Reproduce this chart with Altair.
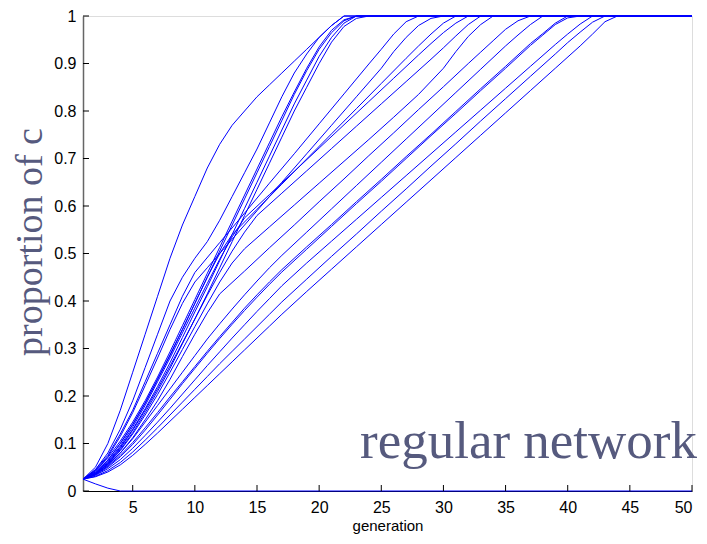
import altair as alt
import pandas as pd

# ---- data ----
x_ticks = [5, 10, 15, 20, 25, 30, 35, 40, 45, 50]
y_ticks = [0, 0.1, 0.2, 0.3, 0.4, 0.5, 0.6, 0.7, 0.8, 0.9, 1]

odd = lambda a, b: list(range(a, b + 1, 2))
seq = lambda a, b: list(range(a, b + 1))

gens_01 = seq(1, 22) + [50]
vals_01 = [.025, .05, .10, .17, .25, .33, .41, .49, .56, .62, .68, .73, .77, .80, .83, .855, .88, .905, .93, .955, .98, 1, 1]

gens_02 = seq(1, 22) + [50]
vals_02 = [.025, .045, .08, .13, .19, .26, .33, .40, .45, .49, .525, .57, .62, .67, .72, .775, .83, .88, .92, .955, .98, 1, 1]

gens_03 = seq(1, 23) + [50]
vals_03 = [.025, .04, .065, .10, .14, .185, .235, .285, .34, .395, .45, .505, .56, .615, .67, .725, .78, .835, .885, .93, .965, .99, 1, 1]

gens_04 = seq(1, 23) + [50]
vals_04 = [.025, .038, .06, .092, .13, .173, .22, .27, .323, .377, .43, .485, .54, .595, .65, .705, .76, .815, .865, .915, .955, .985, 1, 1]

gens_05 = seq(1, 23) + [50]
vals_05 = [.025, .042, .07, .105, .145, .19, .24, .293, .348, .403, .458, .513, .568, .623, .678, .733, .788, .84, .89, .935, .97, .992, 1, 1]

gens_06 = seq(1, 24) + [50]
vals_06 = [.025, .036, .057, .087, .123, .165, .21, .258, .31, .362, .415, .47, .525, .58, .635, .69, .745, .80, .85, .90, .945, .978, .995, 1, 1]

gens_07 = seq(1, 10) + [12, 14, 16, 18, 20, 22, 24, 25, 26, 27, 28, 50]
vals_07 = [.025, .045, .075, .12, .17, .23, .29, .35, .41, .46, .523, .585, .648, .71, .773, .836, .899, .93, .962, .988, 1, 1]

gens_08 = seq(1, 11) + odd(13, 25) + [26, 27, 28, 29, 30, 50]
vals_08 = [.025, .043, .072, .115, .165, .222, .28, .34, .395, .44, .47, .53, .59, .65, .71, .77, .83, .89, .925, .955, .98, .995, 1, 1]

gens_09 = seq(1, 13) + odd(15, 27) + [28, 29, 30, 31, 50]
vals_09 = [.025, .04, .065, .10, .14, .185, .235, .287, .34, .395, .45, .50, .54, .593, .646, .699, .752, .805, .858, .911, .937, .962, .985, 1, 1]

gens_10 = seq(1, 14) + [16, 18, 20, 22, 24, 26, 28, 29, 30, 31, 32, 50]
vals_10 = [.025, .038, .062, .095, .135, .18, .23, .28, .333, .385, .437, .488, .535, .575, .624, .673, .722, .771, .82, .869, .918, .942, .965, .985, 1, 1]

gens_11 = seq(1, 15) + odd(17, 29) + [30, 31, 32, 33, 50]
vals_11 = [.025, .037, .058, .09, .128, .17, .215, .263, .312, .362, .412, .46, .505, .545, .58, .627, .674, .721, .768, .815, .862, .909, .933, .958, .982, 1, 1]

gens_12 = seq(1, 14) + [16, 18, 20, 22, 24, 26, 28, 30, 31, 32, 33, 34, 50]
vals_12 = [.025, .036, .056, .085, .12, .16, .203, .25, .298, .346, .394, .44, .48, .51, .556, .602, .648, .694, .74, .787, .835, .89, .925, .957, .982, 1, 1]

gens_13 = seq(1, 12) + [14, 16, 18, 20, 22, 24, 26, 28, 30, 32, 33, 34, 35, 36, 37, 50]
vals_13 = [.025, .035, .053, .08, .112, .15, .19, .235, .283, .33, .375, .415, .463, .512, .56, .609, .657, .706, .754, .803, .851, .90, .924, .948, .972, .99, 1, 1]

gens_14 = seq(1, 17) + odd(19, 35) + [36, 37, 38, 50]
vals_14 = [.025, .037, .055, .08, .11, .145, .18, .215, .25, .285, .32, .352, .383, .413, .442, .47, .496,
           .545, .594, .643, .692, .741, .79, .839, .888, .937, .96, .982, 1, 1]

gens_15 = seq(1, 17) + odd(19, 37) + [38, 39, 40, 50]
vals_15 = [.025, .035, .052, .075, .102, .133, .165, .198, .23, .262, .294, .325, .355, .385, .413, .44, .466,
           .514, .561, .609, .656, .704, .751, .799, .847, .894, .942, .963, .985, 1, 1]

gens_16 = seq(1, 17) + odd(19, 37) + [38, 39, 40, 41, 50]
vals_16 = [.025, .034, .05, .072, .098, .128, .16, .193, .226, .258, .29, .321, .351, .38, .408, .435, .461,
           .509, .557, .605, .652, .70, .748, .795, .843, .89, .938, .96, .982, .996, 1, 1]

gens_17 = seq(1, 17) + odd(19, 39) + [40, 41, 42, 50]
vals_17 = [.025, .033, .047, .066, .09, .117, .145, .174, .204, .234, .264, .293, .322, .35, .378, .405, .432,
           .48, .526, .572, .618, .664, .71, .756, .802, .848, .894, .94, .962, .983, 1, 1]

gens_18 = seq(1, 17) + odd(19, 39) + [40, 41, 42, 43, 50]
vals_18 = [.025, .031, .043, .06, .082, .107, .133, .16, .187, .214, .241, .268, .294, .32, .346, .372, .398,
           .446, .494, .541, .589, .636, .684, .731, .779, .826, .873, .92, .944, .966, .987, 1, 1]

gens_19 = seq(1, 17) + odd(19, 41) + [42, 43, 44, 50]
vals_19 = [.025, .03, .04, .055, .075, .098, .122, .147, .172, .197, .222, .247, .272, .297, .322, .347, .372,
           .42, .467, .514, .561, .608, .655, .702, .749, .796, .843, .89, .937, .962, .988, 1, 1]

gens_20 = [1, 2, 3, 4, 50]
vals_20 = [.025, .015, .006, 0, 0]

all_gens = [gens_01, gens_02, gens_03, gens_04, gens_05, gens_06, gens_07, gens_08, gens_09, gens_10,
            gens_11, gens_12, gens_13, gens_14, gens_15, gens_16, gens_17, gens_18, gens_19, gens_20]
all_vals = [vals_01, vals_02, vals_03, vals_04, vals_05, vals_06, vals_07, vals_08, vals_09, vals_10,
            vals_11, vals_12, vals_13, vals_14, vals_15, vals_16, vals_17, vals_18, vals_19, vals_20]

rows = []
for i, (gs, vs) in enumerate(zip(all_gens, all_vals)):
    assert len(gs) == len(vs), (i, len(gs), len(vs))
    for g, v in zip(gs, vs):
        rows.append({"run": i + 1, "g": g, "v": v})
df = pd.DataFrame(rows)

W, H = 609, 475
xscale = alt.Scale(domain=[1, 50], nice=False, zero=False)
yscale = alt.Scale(domain=[0, 1], nice=False)

lines = alt.Chart(df).mark_line(color="#0000ff", strokeWidth=1).encode(
    x=alt.X("g:Q", scale=xscale,
            axis=alt.Axis(values=x_ticks, title="generation", ticks=False, grid=False,
                          labelFont="Liberation Sans", labelFontSize=16, labelColor="black",
                          labelPadding=8, titleFont="Liberation Sans", titleFontSize=15,
                          titleFontWeight="normal", titleColor="black", titlePadding=3,
                          domainColor="black", domainWidth=1)),
    y=alt.Y("v:Q", scale=yscale,
            axis=alt.Axis(values=y_ticks, title=None, ticks=False, grid=False, format="~g",
                          labelFont="Liberation Sans", labelFontSize=16, labelColor="black",
                          labelPadding=7, domainColor="#666666", domainWidth=1.5)),
    detail="run:N",
    order="g:Q",
)

xt = alt.Chart(pd.DataFrame({"t": x_ticks})).mark_rule(color="black", strokeWidth=1).encode(
    x=alt.X("t:Q", scale=xscale), y=alt.value(H), y2=alt.value(H - 6))
yt = alt.Chart(pd.DataFrame({"t": y_ticks})).mark_rule(color="black", strokeWidth=1).encode(
    y=alt.Y("t:Q", scale=yscale), x=alt.value(0), x2=alt.value(6))

ylab = alt.Chart(pd.DataFrame({"s": ["proportion of c"]})).mark_text(
    font="Liberation Serif", fontSize=38, color="#565a7e", angle=270,
    align="center", baseline="alphabetic").encode(
    text="s:N", x=alt.value(-41), y=alt.value(226))

note = alt.Chart(pd.DataFrame({"s": ["regular network"]})).mark_text(
    font="Liberation Serif", fontSize=53, color="#565a7e",
    align="right", baseline="alphabetic").encode(
    text="s:N", x=alt.value(614), y=alt.value(442))

chart = alt.layer(lines, xt, yt, ylab, note).properties(
    width=W, height=H,
    padding={"left": 75, "top": 8, "right": 7, "bottom": 45},
    autosize=alt.AutoSizeParams(type="none"),
).configure_view(stroke=None).configure(background="white")

chart.save("out.html", embed_options={"renderer": "svg", "actions": False})
